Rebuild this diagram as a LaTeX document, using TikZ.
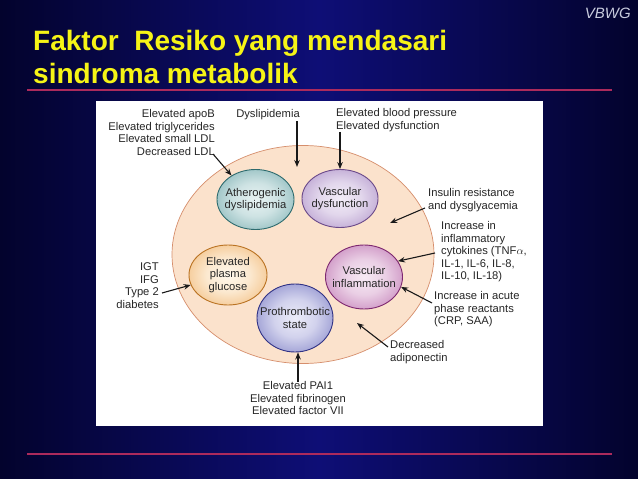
\documentclass[tikz,border=0pt]{standalone}
\usepackage{fontspec}
\setmainfont{Liberation Sans}
\usetikzlibrary{shapes.geometric,arrows.meta}

\definecolor{navy}{RGB}{3,3,45}
\definecolor{navymid}{RGB}{14,14,118}
\definecolor{titleyellow}{RGB}{246,244,22}
\definecolor{vbwggray}{RGB}{200,204,222}
\definecolor{rulered}{RGB}{172,42,92}
\definecolor{peach}{RGB}{251,226,204}
\definecolor{peachrim}{RGB}{214,142,108}
\definecolor{inktext}{RGB}{38,38,38}
\definecolor{atherin}{RGB}{232,243,243}
\definecolor{atherout}{RGB}{58,134,138}
\definecolor{vdysin}{RGB}{242,236,247}
\definecolor{vdysout}{RGB}{134,92,172}
\definecolor{glucin}{RGB}{255,248,236}
\definecolor{glucout}{RGB}{232,144,44}
\definecolor{vinflin}{RGB}{247,234,244}
\definecolor{vinflout}{RGB}{158,50,140}
\definecolor{prothin}{RGB}{236,236,249}
\definecolor{prothout}{RGB}{60,62,166}
\colorlet{bubin}{white}
\colorlet{bubout}{gray}
\pgfdeclareradialshading[bubin,bubout]{bubshade}{\pgfpoint{0bp}{0bp}}{color(0bp)=(bubin); color(14bp)=(bubin!85!bubout); color(34bp)=(bubin!40!bubout); color(46bp)=(bubout); color(50bp)=(bubout!85!black)}

\tikzstyle{bubble} = [ellipse, inner sep=0pt, shade, shading=bubshade, draw=bubout!80!black, line width=0.9pt]
\tikzstyle{txt} = [inner sep=0pt, text=inktext, font=\fontsize{11.2}{12.5}\selectfont]
\tikzstyle{pointer} = [-{Stealth[length=7pt,width=5.5pt]}, line width=1.1pt, black!90]
\tikzset{bubcol/.style 2 args={/utils/exec={\colorlet{bubin}{#1}\colorlet{bubout}{#2}}}}

\begin{document}
\begin{tikzpicture}[x=1pt,y=-1pt]
    \useasboundingbox (0,0) rectangle (638,479);
    \shade[left color=navy, right color=navy, middle color=navymid] (0,0) rectangle (638,479);

    % title
    \node[anchor=base west, inner sep=0pt, font=\fontsize{28}{31}\bfseries\selectfont, text=titleyellow] (title1) at (33,50) {Faktor\ \ Resiko yang mendasari};
    \node[anchor=base west, inner sep=0pt, font=\fontsize{28}{31}\bfseries\selectfont, text=titleyellow] (title2) at (33,83) {sindroma metabolik};
    \node[anchor=base east, inner sep=0pt, font=\fontsize{15}{15}\itshape\selectfont, text=vbwggray] (vbwg) at (631,19) {VBWG};
    \draw[rulered, line width=1.6pt] (27,90) -- (612,90);
    \draw[rulered, line width=1.6pt] (27,454) -- (612,454);

    % panel
    \fill[white] (96,101) rectangle (543,426);
    \node[ellipse, minimum width=262pt, minimum height=218pt, fill=peach, draw=peachrim, line width=0.7pt] (mets) at (303,254.5) {};

    \node[bubble, bubcol={atherin}{atherout}, minimum width=77pt, minimum height=60pt,
          label={[txt, align=center]center:{Atherogenic\\dyslipidemia}}] (ather) at (255.5,199.5) {};
    \node[bubble, bubcol={vdysin}{vdysout}, minimum width=76pt, minimum height=58pt,
          label={[txt, align=center]center:{Vascular\\dysfunction}}] (vdys) at (340,198.5) {};
    \node[bubble, bubcol={glucin}{glucout}, minimum width=78pt, minimum height=60pt,
          label={[txt, align=center]center:{Elevated\\plasma\\glucose}}] (gluc) at (228,275) {};
    \node[bubble, bubcol={vinflin}{vinflout}, minimum width=77pt, minimum height=64pt,
          label={[txt, align=center]center:{Vascular\\inflammation}}] (vinfl) at (364,277) {};
    \node[bubble, bubcol={prothin}{prothout}, minimum width=76pt, minimum height=68pt,
          label={[txt, align=center]center:{Prothrombotic\\state}}] (proth) at (295,318) {};

    % risk factors
    \node[txt, align=right, anchor=north east] (apob) at (215,109.5) {Elevated apoB\\Elevated triglycerides\\Elevated small LDL\\Decreased LDL};
    \node[txt, anchor=north] (dysl) at (268,109.5) {Dyslipidemia};
    \node[txt, align=left, anchor=north west] (bp) at (336,108.5) {Elevated blood pressure\\Elevated dysfunction};
    \node[txt, align=left, anchor=north west] (insulin) at (428,188.5) {Insulin resistance\\and dysglyacemia};
    \node[txt, align=left, anchor=north west] (cyto) at (441,221.5) {Increase in\\inflammatory\\cytokines (TNF$\alpha$,\\IL-1, IL-6, IL-8,\\IL-10, IL-18)};
    \node[txt, align=left, anchor=north west] (acute) at (434,291.5) {Increase in acute\\phase reactants\\(CRP, SAA)};
    \node[txt, align=left, anchor=north west] (adipo) at (390,340.5) {Decreased\\adiponectin};
    \node[txt, align=right, anchor=north east] (igt) at (159,262.5) {IGT\\IFG\\Type 2\\diabetes};
    \node[txt, align=center, anchor=north] (pai) at (298,381.5) {Elevated PAI1\\Elevated fibrinogen\\Elevated factor VII};

    % arrows
    \coordinate (apobtail) at (213,154);
    \coordinate (dysltail) at (297,121);
    \coordinate (dyslhead) at (297,167);
    \coordinate (insulintail) at (425,208);
    \coordinate (insulinhead) at (390,223);
    \coordinate (cytotail) at (435,253);
    \coordinate (acutetail) at (432,303);
    \coordinate (adipotail) at (388,347);
    \coordinate (adipohead) at (357,323);
    \coordinate (igttail) at (162,293);

    \draw[pointer] (apobtail) -- (ather.135);
    \draw[pointer] (dysltail) -- (dyslhead);
    \draw[pointer] (bp.south -| vdys) -- (vdys.north);
    \draw[pointer] (insulintail) -- (insulinhead);
    \draw[pointer] (cytotail) -- (vinfl.25);
    \draw[pointer] (acutetail) -- (vinfl.-15);
    \draw[pointer] (adipotail) -- (adipohead);
    \draw[pointer] (igttail) -- (gluc.195);
    \draw[pointer] (pai.north) -- (pai.north |- proth.south);
\end{tikzpicture}
\end{document}
